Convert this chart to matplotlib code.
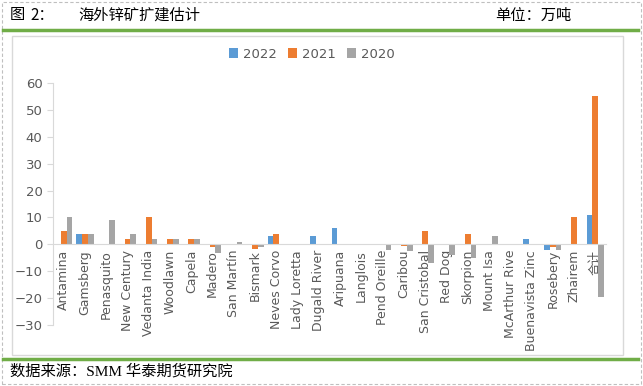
import numpy as np
import matplotlib.pyplot as plt
from matplotlib.patches import Rectangle
from matplotlib.lines import Line2D

plt.rcParams['font.family'] = ['DejaVu Sans', 'Noto Sans CJK SC']

mines = ["Antamina", "Gamsberg", "Penasquito", "New Century", "Vedanta India",
         "Woodlawn", "Capela", "Madero", "San Martín", "Bismark", "Neves Corvo",
         "Lady Loretta", "Dugald River", "Aripuana", "Langlois", "Pend Oreille",
         "Caribou", "San Cristobal", "Red Dog", "Skorpion", "Mount Isa",
         "McArthur Rive", "Buenavista Zinc", "Rosebery", "Zhairem", "合计"]

y2022 = [0, 4, 0, 0, 0, 0, 0, 0, 0, 0, 3, 0, 3, 6, 0, 0, 0, 0, 0, 0, 0, 0, 2, -2.2, 0, 11]
y2021 = [5, 4, 0, 2, 10, 2, 2, -1, 0, -1.7, 4, 0, 0, 0, 0, 0, -0.8, 5, 0, 3.8, 0, 0, 0, -1, 10, 55]
y2020 = [10, 4, 9, 4, 2, 2, 2, -3.2, 0.8, -1, 0, 0, 0, 0, 0, -2.2, -2.4, -7, -4, -5, 3, 0, 0, -2.2, 0, -19.5]

series = [("2022", y2022, "#5B9BD5"), ("2021", y2021, "#ED7D31"), ("2020", y2020, "#A5A5A5")]

W, H = 643, 386
fig = plt.figure(figsize=(W / 100, H / 100), dpi=100)

def fx(px):
    return px / W

def fy(py):
    return 1 - py / H

# frame decorations
fig.patches.append(Rectangle((fx(1.5), fy(383.5)), fx(639), 381.5 / H, transform=fig.transFigure,
                             fill=False, edgecolor="#BFBFBF", linestyle=(0, (3, 2)), linewidth=0.8))
fig.patches.append(Rectangle((fx(12), fy(355)), fx(611), 319 / H, transform=fig.transFigure,
                             fill=False, edgecolor="#D9D9D9", linewidth=1.0))
fig.lines.append(Line2D([fx(3), fx(638)], [fy(30), fy(30)], transform=fig.transFigure,
                        color="#70AD47", linewidth=2.5))
fig.lines.append(Line2D([fx(3), fx(638)], [fy(359), fy(359)], transform=fig.transFigure,
                        color="#70AD47", linewidth=2.5))

cjk = ['Noto Sans CJK SC']
fig.text(fx(10), fy(15), "图", family=cjk, fontsize=11, va="center")
fig.text(fx(30), fy(15), "2：", family=cjk, fontsize=11, va="center")
fig.text(fx(78), fy(15), "海外锌矿扩建估计", family=cjk, fontsize=11, va="center")
fig.text(fx(495), fy(15), "单位：万吨", family=cjk, fontsize=11, va="center")
fig.text(fx(10), fy(371), "数据来源：SMM 华泰期货研究院", family=['Liberation Serif', 'Noto Sans CJK SC'],
         fontsize=11, va="center")

ax = fig.add_axes([fx(53), fy(325), fx(606 - 53), (325 - 83) / H])
x = np.arange(len(mines))
bw = 0.27
for i, (name, vals, col) in enumerate(series):
    ax.bar(x + (i - 1) * bw, vals, width=bw, color=col, label=name, zorder=2)

ax.set_xlim(-0.5, len(mines) - 0.5)
ax.set_ylim(-30, 60)
ax.set_yticks(range(-30, 61, 10))
ax.tick_params(axis="y", colors="#D9D9D9", labelcolor="#595959", labelsize=9.5, length=4)
ax.tick_params(axis="x", length=0, pad=4, labelrotation=90, labelsize=9, labelcolor="#595959")
ax.set_xticks(x)
ax.set_xticklabels(mines)
for lab in ax.get_xticklabels():
    lab.set_rotation(90)
    lab.set_va("top")
    lab.set_ha("center")

ax.spines["bottom"].set_position(("data", 0))
ax.spines["bottom"].set_color("#D9D9D9")
ax.spines["left"].set_color("#D9D9D9")
ax.spines["top"].set_visible(False)
ax.spines["right"].set_visible(False)
ax.set_facecolor("none")

leg = fig.legend(loc="center", bbox_to_anchor=(fx(312), fy(54)), ncol=3, frameon=False,
                 fontsize=9.5, handlelength=0.7, handleheight=0.7, handletextpad=0.4, columnspacing=0.8)
for t in leg.get_texts():
    t.set_color("#595959")

fig.savefig("out.png", dpi=100)
